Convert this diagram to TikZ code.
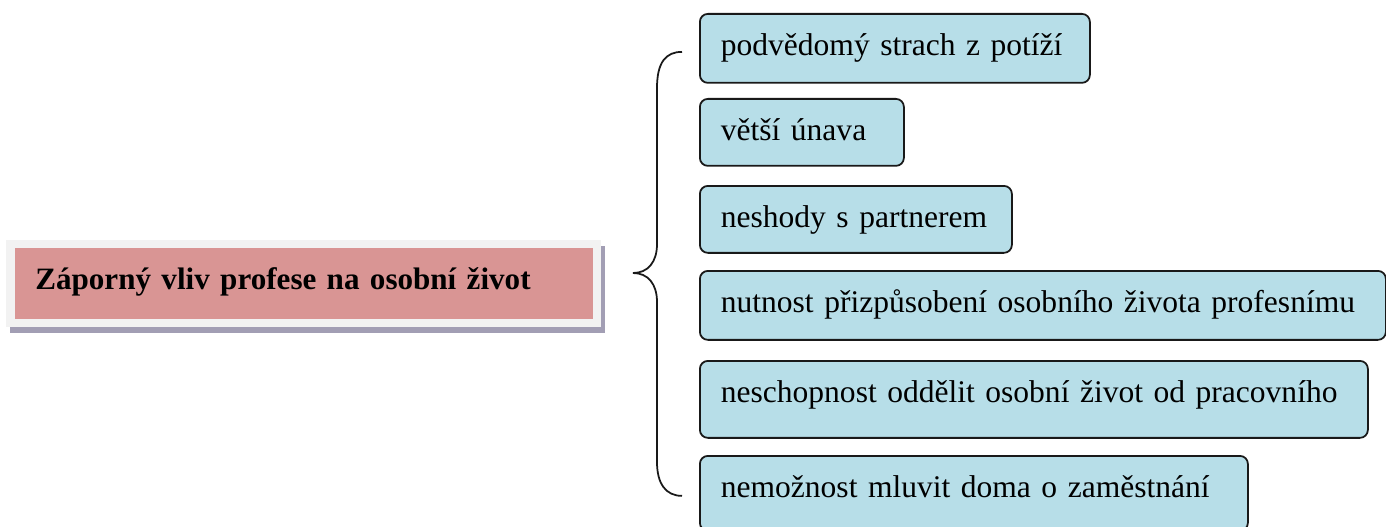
\documentclass[tikz,border=0pt]{standalone}
\usepackage{fontspec}
\setmainfont{Liberation Serif}
\usetikzlibrary{backgrounds}
\definecolor{cBlue}{RGB}{183, 222, 232}
\definecolor{cPink}{RGB}{217, 149, 148}
\definecolor{cFrame}{RGB}{242, 242, 242}
\definecolor{cShadow}{RGB}{162, 158, 180}
\definecolor{cLine}{RGB}{25, 25, 25}

\begin{document}
\begin{tikzpicture}[x=0.02cm, y=-0.02cm,
    every node/.style={font=\fontsize{17.95pt}{22pt}\selectfont},
    itembox/.style={draw=cLine, line width=1pt, fill=cBlue, rounded corners=0.16cm,
      anchor=north west, inner xsep=0.42cm, inner ysep=0pt, text height=0.84cm, align=left},
    mainbox/.style={fill=cPink, anchor=north west, inner xsep=0.4cm, inner ysep=0pt,
      text width=10.76cm, text height=0.82cm, text depth=0.6cm, align=left,
      font=\fontsize{17.7pt}{22pt}\selectfont\bfseries}]
  \useasboundingbox (0,0) rectangle (1386,527);

  % left: the topic
  \node[mainbox] (main) at (15,248) {Záporný vliv profese na osobní život};
  \begin{scope}[on background layer]
    \fill[cShadow] ([xshift=-0.1cm,yshift=0.04cm]main.north west) rectangle ([xshift=0.22cm,yshift=-0.26cm]main.south east);
    \fill[cFrame] ([xshift=-0.18cm,yshift=0.16cm]main.north west) rectangle ([xshift=0.14cm,yshift=-0.14cm]main.south east);
  \end{scope}

  % right: the items
  \foreach \n/\top/\w/\h/\txt in {1/13/390/69/podvědomý strach z potíží,
      2/98/204/67/větší únava,
      3/185/312/67/neshody s partnerem,
      4/270/686/69/nutnost přizpůsobení osobního života profesnímu,
      5/360/668/77/neschopnost oddělit osobní život od pracovního,
      6/455/548/75/nemožnost mluvit doma o zaměstnání}{
    \pgfmathsetmacro\tw{(\w-42)*0.02}
    \pgfmathsetmacro\td{(\h-42)*0.02}
    \node[itembox, text width=\tw cm, text depth=\td cm] (b\n) at (699,\top) {\txt};
  }

  % brace
  \coordinate (tip) at (633,273);
  \coordinate (btop) at ([xshift=-0.34cm,yshift=-0.07cm]b1.west);
  \coordinate (bbot) at ([xshift=-0.34cm,yshift=-0.05cm]b6.west);
  \draw[cLine, line width=1pt]
    (btop) .. controls ++(-16,0) and (657,62) .. (657,88) -- (657,244)
    .. controls (657,262) and (648,273) .. (tip)
    .. controls (648,273) and (657,284) .. (657,302) -- (657,462)
    .. controls (657,484) and ([xshift=-0.32cm]bbot) .. (bbot);
\end{tikzpicture}
\end{document}
